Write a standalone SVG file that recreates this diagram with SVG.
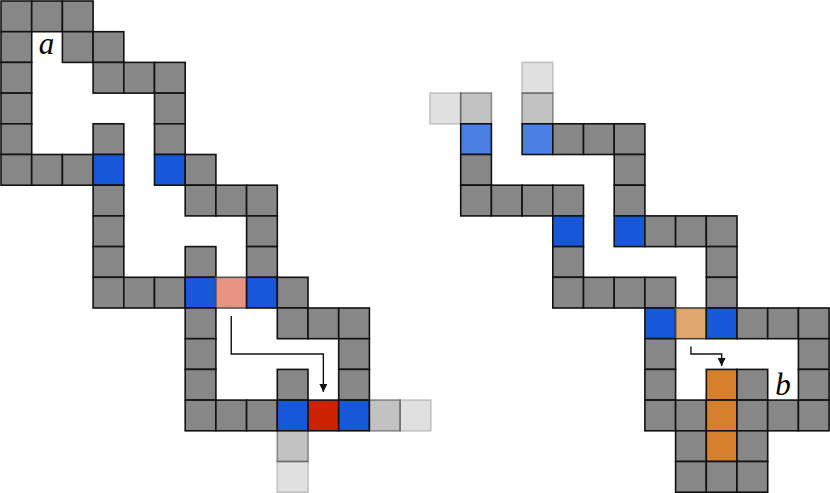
<svg xmlns="http://www.w3.org/2000/svg" width="830" height="493" viewBox="0 0 830 493">
<style>
rect{stroke:#111;stroke-width:1.6;width:30.7px;height:30.7px}
.g{fill:#878787}
.b{fill:#1858d8}
.lb{fill:#4b7fe4}
.r{fill:#cc2200}
.s{fill:#e69480;stroke:#555}
.t{fill:#dfa66e;stroke:#444}
.o{fill:#d4802c}
.h{fill:#878787;opacity:0.5}
.q{fill:#878787;opacity:0.25}
.lbl{font-family:"Liberation Serif","DejaVu Serif",serif;font-style:italic;font-size:31px;fill:#000;text-anchor:middle}
.arr{fill:none;stroke:#111;stroke-width:1.4}
</style>
<defs>
<marker id="ah" markerUnits="userSpaceOnUse" markerWidth="8" markerHeight="8" refX="8" refY="4" orient="auto">
<path d="M0,0 L8,4 L0,8 z" fill="#111"/>
</marker>
</defs>
<rect width="830" height="493" style="fill:#fff;stroke:none;width:830px;height:493px"/>
<g id="grid-a">
<rect class="g" x="1" y="1"/><rect class="g" x="31.7" y="1"/><rect class="g" x="62.4" y="1"/>
<rect class="g" x="1" y="31.7"/><rect class="g" x="62.4" y="31.7"/><rect class="g" x="93.1" y="31.7"/>
<rect class="g" x="1" y="62.4"/><rect class="g" x="93.1" y="62.4"/><rect class="g" x="123.8" y="62.4"/><rect class="g" x="154.5" y="62.4"/>
<rect class="g" x="1" y="93.1"/><rect class="g" x="154.5" y="93.1"/>
<rect class="g" x="1" y="123.8"/><rect class="g" x="93.1" y="123.8"/><rect class="g" x="154.5" y="123.8"/>
<rect class="g" x="1" y="154.5"/><rect class="g" x="31.7" y="154.5"/><rect class="g" x="62.4" y="154.5"/><rect class="b" x="93.1" y="154.5"/><rect class="b" x="154.5" y="154.5"/><rect class="g" x="185.2" y="154.5"/>
<rect class="g" x="93.1" y="185.2"/><rect class="g" x="185.2" y="185.2"/><rect class="g" x="215.9" y="185.2"/><rect class="g" x="246.6" y="185.2"/>
<rect class="g" x="93.1" y="215.9"/><rect class="g" x="246.6" y="215.9"/>
<rect class="g" x="93.1" y="246.6"/><rect class="g" x="185.2" y="246.6"/><rect class="g" x="246.6" y="246.6"/>
<rect class="g" x="93.1" y="277.3"/><rect class="g" x="123.8" y="277.3"/><rect class="g" x="154.5" y="277.3"/><rect class="b" x="185.2" y="277.3"/><rect class="s" x="215.9" y="277.3"/><rect class="b" x="246.6" y="277.3"/><rect class="g" x="277.3" y="277.3"/>
<rect class="g" x="185.2" y="308"/><rect class="g" x="277.3" y="308"/><rect class="g" x="308" y="308"/><rect class="g" x="338.7" y="308"/>
<rect class="g" x="185.2" y="338.7"/><rect class="g" x="338.7" y="338.7"/>
<rect class="g" x="185.2" y="369.4"/><rect class="g" x="277.3" y="369.4"/><rect class="g" x="338.7" y="369.4"/>
<rect class="g" x="185.2" y="400.1"/><rect class="g" x="215.9" y="400.1"/><rect class="g" x="246.6" y="400.1"/><rect class="b" x="277.3" y="400.1"/><rect class="r" x="308" y="400.1"/><rect class="b" x="338.7" y="400.1"/><rect class="h" x="369.4" y="400.1"/><rect class="q" x="400.1" y="400.1"/>
<rect class="h" x="277.3" y="430.8"/>
<rect class="q" x="277.3" y="461.5"/>
<text class="lbl" x="46.5" y="54">a</text>
</g>
<g id="grid-b">
<rect class="q" x="522.1" y="62.4"/>
<rect class="q" x="430" y="93.1"/><rect class="h" x="460.7" y="93.1"/><rect class="h" x="522.1" y="93.1"/>
<rect class="lb" x="460.7" y="123.8"/><rect class="lb" x="522.1" y="123.8"/><rect class="g" x="552.8" y="123.8"/><rect class="g" x="583.5" y="123.8"/><rect class="g" x="614.2" y="123.8"/>
<rect class="g" x="460.7" y="154.5"/><rect class="g" x="614.2" y="154.5"/>
<rect class="g" x="460.7" y="185.2"/><rect class="g" x="491.4" y="185.2"/><rect class="g" x="522.1" y="185.2"/><rect class="g" x="552.8" y="185.2"/><rect class="g" x="614.2" y="185.2"/>
<rect class="b" x="552.8" y="215.9"/><rect class="b" x="614.2" y="215.9"/><rect class="g" x="644.9" y="215.9"/><rect class="g" x="675.6" y="215.9"/><rect class="g" x="706.3" y="215.9"/>
<rect class="g" x="552.8" y="246.6"/><rect class="g" x="706.3" y="246.6"/>
<rect class="g" x="552.8" y="277.3"/><rect class="g" x="583.5" y="277.3"/><rect class="g" x="614.2" y="277.3"/><rect class="g" x="644.9" y="277.3"/><rect class="g" x="706.3" y="277.3"/>
<rect class="b" x="644.9" y="308"/><rect class="t" x="675.6" y="308"/><rect class="b" x="706.3" y="308"/><rect class="g" x="737" y="308"/><rect class="g" x="767.7" y="308"/><rect class="g" x="798.4" y="308"/>
<rect class="g" x="644.9" y="338.7"/><rect class="g" x="798.4" y="338.7"/>
<rect class="g" x="644.9" y="369.4"/><rect class="o" x="706.3" y="369.4"/><rect class="g" x="737" y="369.4"/><rect class="g" x="798.4" y="369.4"/>
<rect class="g" x="644.9" y="400.1"/><rect class="g" x="675.6" y="400.1"/><rect class="o" x="706.3" y="400.1"/><rect class="g" x="737" y="400.1"/><rect class="g" x="767.7" y="400.1"/><rect class="g" x="798.4" y="400.1"/>
<rect class="g" x="675.6" y="430.8"/><rect class="o" x="706.3" y="430.8"/><rect class="g" x="737" y="430.8"/>
<rect class="g" x="675.6" y="461.5"/><rect class="g" x="706.3" y="461.5"/><rect class="g" x="737" y="461.5"/>
<text class="lbl" x="783" y="395">b</text>
</g>
<g id="connectors">
<path class="arr" d="M231.25,316 V354 H323.35 V392" marker-end="url(#ah)"/>
<path class="arr" d="M690.95,346.5 V354 H721.65 V366" marker-end="url(#ah)"/>
</g>
</svg>
